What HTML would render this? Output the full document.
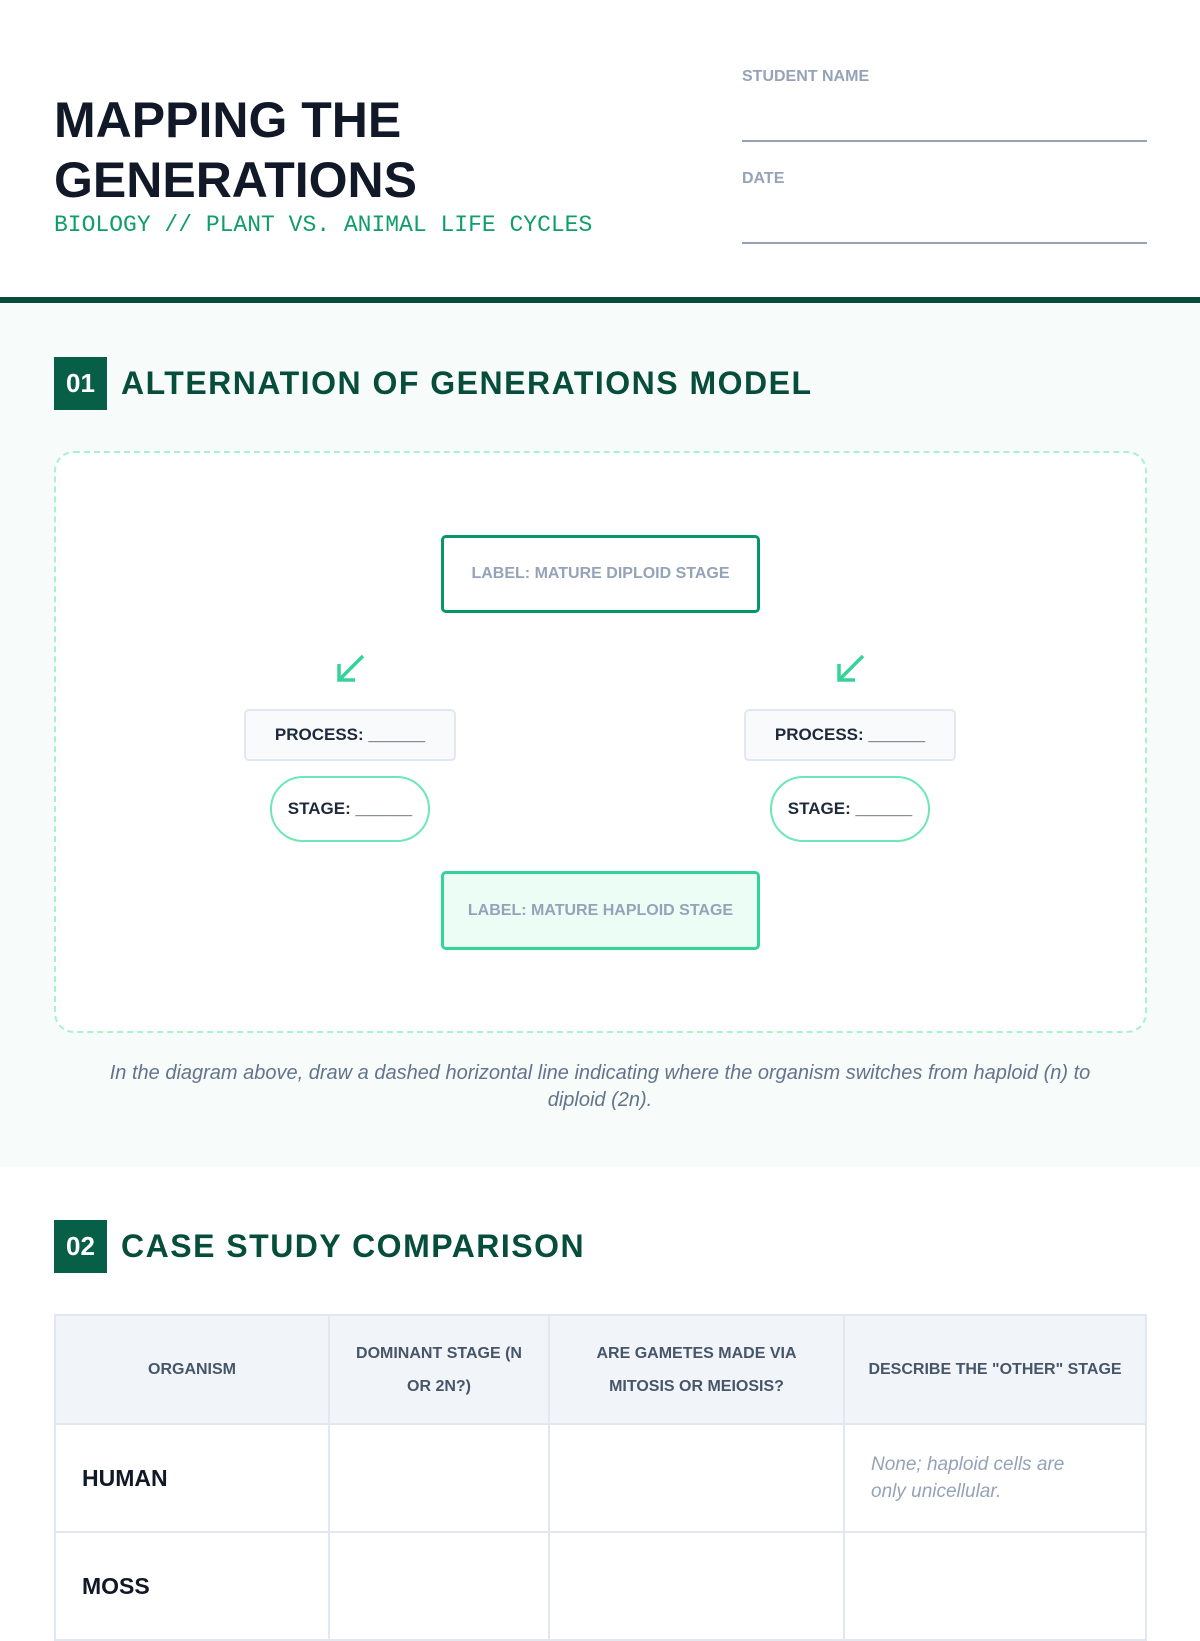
<!DOCTYPE html>
<html><head><meta charset="utf-8"><style>
*{margin:0;padding:0;box-sizing:border-box}
body{width:1200px;height:1600px;overflow:hidden;background:#fff;font-family:"Liberation Sans",sans-serif;position:relative}
.abs{position:absolute}
.t{font-weight:900;font-size:50px;color:#111827;letter-spacing:0px;line-height:60px;left:54px}
.sub{left:54px;top:212px;font-family:"Liberation Mono",monospace;font-size:23px;color:#0f9d6a}
.fl{font-size:16px;font-weight:bold;color:#94a3b8;left:742px}
.ln{left:742px;width:405px;height:2px;background:#94a3b8}
.badge{left:54px;width:53px;height:53px;background:#065f46;color:#fff;font-weight:bold;font-size:26px;text-align:center;line-height:53px}
.h2{left:121px;font-weight:bold;font-size:32px;color:#064e3b;letter-spacing:1.5px;line-height:53px}
.box{display:flex;align-items:center;justify-content:center;font-weight:bold;font-size:17px}
table{border-collapse:collapse;position:absolute;left:54px;top:1314px;width:1093px}
td,th{border:2px solid #e2e8f0}
th{background:#f1f5f9;color:#475569;font-size:16px;font-weight:bold;height:109px;line-height:33px;padding:0 12px}
td{height:108px;font-size:23px;font-weight:bold;color:#111827;padding-left:26px}
</style></head><body>
<div class="abs t" style="top:90px">MAPPING THE</div>
<div class="abs t" style="top:150px">GENERATIONS</div>
<div class="abs sub">BIOLOGY // PLANT VS. ANIMAL LIFE CYCLES</div>
<div class="abs fl" style="top:68px">STUDENT NAME</div>
<div class="abs ln" style="top:140px"></div>
<div class="abs fl" style="top:170px">DATE</div>
<div class="abs ln" style="top:242px"></div>
<div class="abs" style="left:0;top:297px;width:1200px;height:6px;background:#064e3b"></div>
<div class="abs" style="left:0;top:303px;width:1200px;height:864px;background:#f7fbfa"></div>
<div class="abs badge" style="top:357px">01</div>
<div class="abs h2" style="top:357px">ALTERNATION OF GENERATIONS MODEL</div>
<div class="abs" style="left:54px;top:451px;width:1093px;height:582px;border:2px dashed #a7f3d0;border-radius:20px;background:#fff"></div>
<div class="abs box" style="left:441px;top:535px;width:319px;height:78px;border:3px solid #059669;border-radius:5px;background:#fff;color:#94a3b8;font-size:16px">LABEL: MATURE DIPLOID STAGE</div>
<svg class="abs" style="left:330px;top:650px" width="40" height="40"><polyline points="33,6 9,30" stroke="#34d399" stroke-width="3.5" fill="none"/><polyline points="9,14 9,30 25,30" stroke="#34d399" stroke-width="3.5" fill="none"/></svg>
<svg class="abs" style="left:830px;top:650px" width="40" height="40"><polyline points="33,6 9,30" stroke="#34d399" stroke-width="3.5" fill="none"/><polyline points="9,14 9,30 25,30" stroke="#34d399" stroke-width="3.5" fill="none"/></svg>
<div class="abs box" style="left:244px;top:709px;width:212px;height:52px;border:2px solid #e2e8f0;border-radius:5px;background:#f8fafc;color:#1e293b">PROCESS: ______</div>
<div class="abs box" style="left:744px;top:709px;width:212px;height:52px;border:2px solid #e2e8f0;border-radius:5px;background:#f8fafc;color:#1e293b">PROCESS: ______</div>
<div class="abs box" style="left:270px;top:776px;width:160px;height:66px;border:2px solid #6ee7b7;border-radius:33px;background:#fff;color:#1e293b">STAGE: ______</div>
<div class="abs box" style="left:770px;top:776px;width:160px;height:66px;border:2px solid #6ee7b7;border-radius:33px;background:#fff;color:#1e293b">STAGE: ______</div>
<div class="abs box" style="left:441px;top:871px;width:319px;height:79px;border:3px solid #34d399;border-radius:5px;background:#ecfdf5;color:#94a3b8;font-size:16px">LABEL: MATURE HAPLOID STAGE</div>
<div class="abs" style="left:90px;top:1060px;width:1020px;text-align:center;font-style:italic;font-size:20px;line-height:27px;color:#64748b">In the diagram above, draw a dashed horizontal line indicating where the organism switches from haploid (n) to diploid (2n).</div>
<div class="abs badge" style="top:1220px">02</div>
<div class="abs h2" style="top:1220px">CASE STUDY COMPARISON</div>
<table>
<tr><th style="width:274px">ORGANISM</th><th style="width:220px">DOMINANT STAGE (N OR 2N?)</th><th style="width:295px">ARE GAMETES MADE VIA MITOSIS OR MEIOSIS?</th><th style="white-space:nowrap">DESCRIBE THE "OTHER" STAGE</th></tr>
<tr><td>HUMAN</td><td></td><td></td><td style="font-weight:normal;font-style:italic;font-size:19px;color:#94a3b8;line-height:27px;padding-left:26px;padding-right:50px">None; haploid cells are only unicellular.</td></tr>
<tr><td>MOSS</td><td></td><td></td><td></td></tr>
</table>
</body></html>
